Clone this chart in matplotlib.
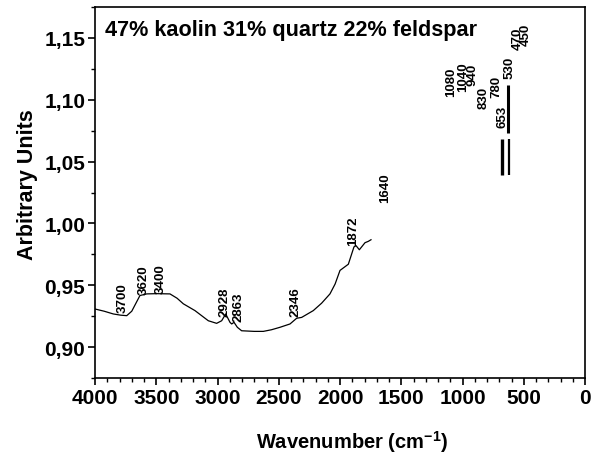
import matplotlib
matplotlib.use('Agg')
import matplotlib.pyplot as plt
from matplotlib.ticker import MultipleLocator

plt.rcParams['font.family'] = ['Liberation Sans', 'DejaVu Sans']
plt.rcParams['font.weight'] = 'bold'
plt.rcParams['mathtext.fontset'] = 'custom'
plt.rcParams['mathtext.rm'] = 'Liberation Sans:bold'
plt.rcParams['mathtext.bf'] = 'Liberation Sans:bold'
plt.rcParams['mathtext.default'] = 'bf'

# spectrum
wavenumber = [4000, 3925, 3851, 3790, 3741, 3700, 3633, 3578, 3500, 3388, 3330, 3279,
              3184, 3075, 3007, 2966, 2933, 2898, 2884, 2865, 2838, 2803, 2700, 2626,
              2560, 2490, 2408, 2354, 2313, 2218, 2150, 2082, 2040, 2000, 1932, 1886,
              1869, 1842, 1796, 1769, 1747]
absorb = [0.9308, 0.9290, 0.9268, 0.9258, 0.9254, 0.9290, 0.9417, 0.9430, 0.9432, 0.9430,
          0.9395, 0.9350, 0.9295, 0.9213, 0.9192, 0.9213, 0.9268, 0.9200, 0.9187, 0.9200,
          0.9160, 0.9132, 0.9127, 0.9127, 0.9140, 0.9160, 0.9187, 0.9233, 0.9240, 0.9295,
          0.9355, 0.9430, 0.9510, 0.9620, 0.9670, 0.9810, 0.9820, 0.9787, 0.9844, 0.9855,
          0.9868]

# short bars near 650 cm-1
bar_x = [626, 675, 623]
bar_y0 = [1.0735, 1.0390, 1.0390]
bar_y1 = [1.1116, 1.0683, 1.0683]
bar_w = [2.2, 2.4, 1.6]

# peak labels
peak_text = ['3700', '3620', '3400', '2928', '2863', '2346', '1872', '1640',
             '1080', '1040', '940', '830', '780', '653', '530', '470', '450']
peak_x = [3774, 3606, 3464, 2944, 2830, 2367, 1891, 1633,
          1096, 998, 917, 830, 727, 672, 618, 553, 485]
peak_y = [0.9282, 0.9430, 0.9438, 0.9254, 0.9213, 0.9254, 0.9822, 1.0177,
          1.1027, 1.1067, 1.1121, 1.0937, 1.1019, 1.0783, 1.1175, 1.1413, 1.1441]

fig = plt.figure(figsize=(5.97, 4.60), dpi=100)
ax = fig.add_axes([95/597, 1 - 379/460, 490/597, 371/460])

ax.plot(wavenumber, absorb, color='black', lw=0.9)
for x, a, b, w in zip(bar_x, bar_y0, bar_y1, bar_w):
    ax.plot([x, x], [a, b], color='black', lw=w, solid_capstyle='butt')

for t, x, y in zip(peak_text, peak_x, peak_y):
    ax.text(x, y, t, rotation=90, ha='center', va='bottom', fontsize=9.5,
            fontweight='bold')

ax.text(0.021, 0.968, '47% kaolin 31% quartz 22% feldspar', transform=ax.transAxes,
        ha='left', va='top', fontsize=15.6, fontweight='bold')

ax.set_xlim(4000, 0)
ax.set_ylim(0.875, 1.175)
ax.xaxis.set_major_locator(MultipleLocator(500))
ax.xaxis.set_minor_locator(MultipleLocator(100))
ax.yaxis.set_major_locator(MultipleLocator(0.05))
ax.yaxis.set_minor_locator(MultipleLocator(0.025))
ax.yaxis.set_major_formatter(plt.FuncFormatter(lambda v, p: f'{v:.2f}'.replace('.', ',')))

ax.tick_params(which='major', direction='out', length=5, width=1.2, labelsize=15, pad=2)
ax.tick_params(which='minor', direction='out', length=3, width=1.0)
ax.tick_params(top=False, right=False)
for s in ax.spines.values():
    s.set_linewidth(1.2)

ax.set_xlabel('Wavenumber (cm$^{-1}$)', fontsize=14.5, fontweight='bold')
ax.set_ylabel('Arbitrary Units', fontsize=15.5, fontweight='bold')
ax.xaxis.set_label_coords(0.525, -0.135)
ax.yaxis.set_label_coords(-0.117, 0.525)

fig.savefig('out.png', dpi=100)
